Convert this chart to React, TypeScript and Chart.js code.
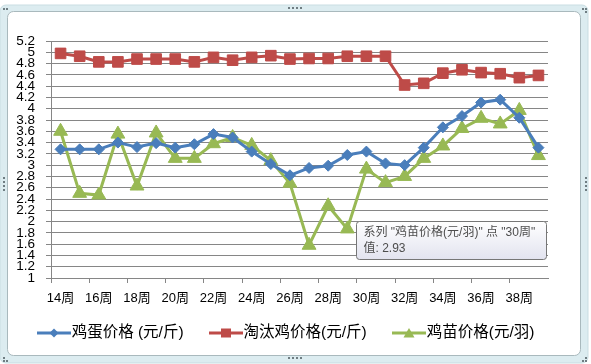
import React, { useEffect, useRef } from 'react';
import { Chart, registerables } from 'chart.js';

Chart.register(...registerables);

const weeks = [
  '14周', '15周', '16周', '17周', '18周', '19周', '20周', '21周', '22周', '23周', '24周', '25周', '26周',
  '27周', '28周', '29周', '30周', '31周', '32周', '33周', '34周', '35周', '36周', '37周', '38周', '39周',
];
const eggPrice = [
  3.28, 3.28, 3.28, 3.40, 3.32, 3.39, 3.31, 3.37, 3.55, 3.49, 3.24, 3.02, 2.82,
  2.95, 2.99, 3.18, 3.24, 3.03, 3.00, 3.31, 3.67, 3.87, 4.11, 4.16, 3.84, 3.31,
];
const henPrice = [
  4.98, 4.93, 4.83, 4.83, 4.88, 4.88, 4.88, 4.83, 4.91, 4.86, 4.91, 4.94, 4.88,
  4.89, 4.89, 4.93, 4.93, 4.93, 4.42, 4.45, 4.63, 4.69, 4.64, 4.62, 4.55, 4.59,
];
const chickPrice = [
  3.60, 2.50, 2.47, 3.55, 2.63, 3.57, 3.12, 3.12, 3.38, 3.49, 3.35, 3.08, 2.68,
  1.58, 2.28, 1.87, 2.93, 2.69, 2.80, 3.12, 3.34, 3.65, 3.83, 3.73, 3.97, 3.17,
];
const seriesNames = ['鸡蛋价格 (元/斤)', '淘汰鸡价格(元/斤)', '鸡苗价格(元/羽)'];
const yMin = 1;
const yMax = 5.2;
const yStep = 0.2;
const hoverSeries = 2;
const hoverIndex = 16;

const FONT = '"Liberation Sans", "Noto Sans CJK SC", sans-serif';
const BLUE = '#4A7EBB';
const RED = '#BE4B48';
const GREEN = '#98B954';
const GRID = '#868686';

function legendIcon(color: string, kind: string): HTMLCanvasElement {
  const c = document.createElement('canvas');
  c.width = 34;
  c.height = 12;
  const g = c.getContext('2d')!;
  g.strokeStyle = color;
  g.fillStyle = color;
  g.lineWidth = 3;
  g.beginPath();
  g.moveTo(0, 6);
  g.lineTo(34, 6);
  g.stroke();
  g.beginPath();
  if (kind === 'diamond') {
    g.moveTo(17, 1.5); g.lineTo(21.5, 6); g.lineTo(17, 10.5); g.lineTo(12.5, 6);
  } else if (kind === 'square') {
    g.rect(12, 1.5, 10, 9);
  } else {
    g.moveTo(17, 1); g.lineTo(22.5, 10.5); g.lineTo(11.5, 10.5);
  }
  g.closePath();
  g.fill();
  return c;
}

const framePlugin = {
  id: 'frame',
  beforeDraw(chart: any) {
    const { ctx, width, height } = chart;
    ctx.save();
    ctx.fillStyle = '#ffffff';
    ctx.fillRect(0, 0, width, height);
    ctx.fillStyle = '#dcecf0';
    ctx.beginPath();
    ctx.roundRect(0, 5, 588, 358, 6);
    ctx.fill();
    ctx.strokeStyle = '#c9dde2';
    ctx.lineWidth = 1;
    ctx.stroke();
    ctx.fillStyle = '#ffffff';
    ctx.beginPath();
    ctx.roundRect(7.5, 11.5, 573, 344, 6);
    ctx.fill();
    ctx.strokeStyle = '#a9b9bd';
    ctx.stroke();
    ctx.fillStyle = '#6f7d82';
    for (let i = 0; i < 4; i++) {
      ctx.fillRect(288 + i * 4, 7, 2, 2);
      ctx.fillRect(288 + i * 4, 357, 2, 2);
      ctx.fillRect(3, 177 + i * 4, 2, 2);
      ctx.fillRect(585, 177 + i * 4, 2, 2);
    }
    ctx.fillRect(3, 8, 2, 2); ctx.fillRect(6, 8, 2, 2);
    ctx.fillRect(582, 8, 2, 2); ctx.fillRect(585, 8, 2, 2); ctx.fillRect(585, 11, 2, 2);
    ctx.fillRect(3, 357, 2, 2); ctx.fillRect(3, 360, 2, 2); ctx.fillRect(6, 360, 2, 2);
    ctx.fillRect(585, 357, 2, 2); ctx.fillRect(585, 360, 2, 2); ctx.fillRect(582, 360, 2, 2);
    ctx.restore();
  },
};

const tipPlugin = {
  id: 'staticTip',
  afterDraw(chart: any) {
    const meta = chart.getDatasetMeta(hoverSeries);
    const el = meta.data[hoverIndex];
    if (!el) return;
    const { ctx } = chart;
    const line1 = `系列 "${seriesNames[hoverSeries]}" 点 "${weeks[hoverIndex]}"`;
    const line2 = `值: ${chickPrice[hoverIndex]}`;
    ctx.save();
    ctx.font = `12px ${FONT}`;
    const w = Math.round(Math.max(ctx.measureText(line1).width, ctx.measureText(line2).width) + 18);
    const h = 38;
    const x = Math.round(el.x - 10) + 0.5;
    const y = Math.round(el.y + 52) + 0.5;
    const grad = ctx.createLinearGradient(0, y, 0, y + h);
    grad.addColorStop(0, '#ffffff');
    grad.addColorStop(1, '#e2e3ef');
    ctx.fillStyle = grad;
    ctx.beginPath();
    ctx.roundRect(x, y, w, h, 3);
    ctx.fill();
    ctx.strokeStyle = '#767676';
    ctx.lineWidth = 1;
    ctx.stroke();
    ctx.fillStyle = '#4d4d4d';
    ctx.textBaseline = 'middle';
    ctx.textAlign = 'left';
    ctx.fillText(line1, x + 7, y + 11);
    ctx.fillText(line2, x + 7, y + 27.5);
    ctx.restore();
  },
};

export default function App() {
  const ref = useRef<HTMLCanvasElement | null>(null);
  useEffect(() => {
    document.body.style.margin = '0';
    const canvas = ref.current!;
    const icons = [legendIcon(BLUE, 'diamond'), legendIcon(RED, 'square'), legendIcon(GREEN, 'triangle')];
    const legendPlugin = {
      id: 'lineLegend',
      afterDraw(chart: any) {
        const { ctx } = chart;
        ctx.save();
        ctx.font = `15.5px ${FONT}`;
        const ds = chart.data.datasets;
        const iconW = 34;
        const iconGap = 1;
        const itemGap = 25;
        const widths = ds.map((d: any) => iconW + iconGap + ctx.measureText(d.label).width);
        const total = widths.reduce((a: number, b: number) => a + b, 0) + itemGap * (ds.length - 1);
        let x = 285.5 - total / 2;
        const y = 333;
        ds.forEach((d: any, i: number) => {
          ctx.drawImage(icons[i], Math.round(x), y - 6);
          ctx.fillStyle = '#000000';
          ctx.textBaseline = 'middle';
          ctx.textAlign = 'left';
          ctx.fillText(d.label, x + iconW + iconGap, y);
          x += widths[i] + itemGap;
        });
        ctx.restore();
      },
    };
    const chart = new Chart(canvas, {
      type: 'line',
      data: {
        labels: weeks,
        datasets: [
          {
            label: seriesNames[0], data: eggPrice, borderColor: BLUE, backgroundColor: BLUE,
            borderWidth: 3, pointStyle: 'rectRot', pointRadius: 5.5, pointBorderWidth: 1,
            pointBackgroundColor: BLUE, pointBorderColor: BLUE, tension: 0,
          },
          {
            label: seriesNames[1], data: henPrice, borderColor: RED, backgroundColor: RED,
            borderWidth: 3, pointStyle: 'rect', pointRadius: 7.5, pointBorderWidth: 1,
            pointBackgroundColor: RED, pointBorderColor: RED, tension: 0,
          },
          {
            label: seriesNames[2], data: chickPrice, borderColor: GREEN, backgroundColor: GREEN,
            borderWidth: 3, pointStyle: 'triangle', pointRadius: 8, pointBorderWidth: 1,
            pointBackgroundColor: GREEN, pointBorderColor: GREEN, tension: 0,
          },
        ],
      },
      options: {
        responsive: false,
        animation: false,
        events: [],
        layout: { padding: { left: 0, right: 43, top: 41, bottom: 50 } },
        scales: {
          x: {
            offset: true,
            grid: {
              offset: true,
              drawOnChartArea: false,
              drawTicks: true,
              tickLength: 5,
              tickColor: (c: any) => (c.index % 2 === 0 ? GRID : 'rgba(0,0,0,0)'),
            },
            border: { display: true, color: GRID, width: 1 },
            ticks: {
              autoSkip: false,
              maxRotation: 0,
              minRotation: 0,
              padding: 8,
              color: '#000000',
              font: { family: FONT, size: 13 },
              callback: (_v: any, i: number) => (i % 2 === 0 ? weeks[i] : ''),
            },
            afterFit: (s: any) => { s.height = 36; },
          },
          y: {
            min: yMin,
            max: yMax,
            grid: { color: GRID, tickLength: 5, drawTicks: true, tickColor: GRID },
            border: { display: true, color: GRID, width: 1 },
            ticks: {
              stepSize: yStep,
              autoSkip: false,
              padding: 11,
              color: '#000000',
              font: { family: FONT, size: 13.5 },
              callback: (v: any) => String(Number(Number(v).toFixed(1))),
            },
            afterFit: (s: any) => { s.width = 51; },
          },
        },
        plugins: {
          tooltip: { enabled: false },
          legend: { display: false },
        },
      },
      plugins: [framePlugin, legendPlugin, tipPlugin],
    } as any);
    return () => chart.destroy();
  }, []);
  return <canvas ref={ref} width={591} height={364} style={{ display: 'block' }} />;
}
